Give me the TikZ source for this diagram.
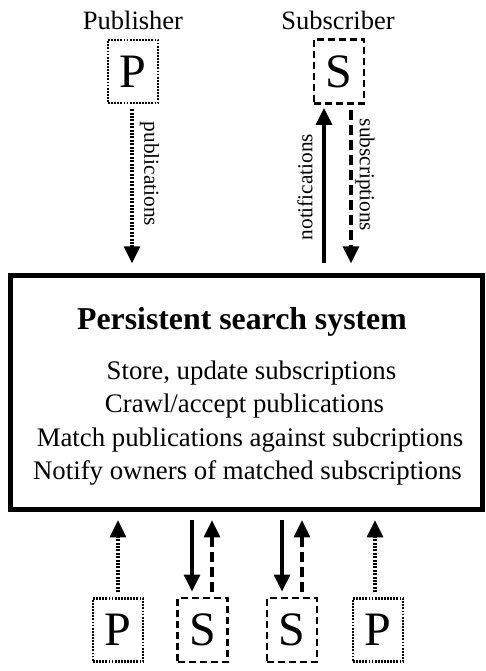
\documentclass[tikz,border=0pt]{standalone}
\usepackage{fontspec}
\setmainfont{Liberation Serif}
\usetikzlibrary{arrows.meta}
\begin{document}
\begin{tikzpicture}[x=1pt,y=-1pt,
  dotbox/.style={draw,line width=2.6pt,dash pattern=on 1.8pt off 1.3pt,minimum width=50pt,minimum height=63pt,inner sep=0pt,font=\fontsize{48}{48}\selectfont},
  dashbox/.style={draw,line width=2.8pt,dash pattern=on 7pt off 4pt,minimum width=50pt,minimum height=64pt,inner sep=0pt,font=\fontsize{48}{48}\selectfont},
  arr/.style={line width=3.2pt,-{Triangle[length=17pt,width=16pt]}},
  dotarr/.style={arr,dash pattern=on 2pt off 1.4pt},
  dasharr/.style={arr,dash pattern=on 10pt off 5pt},
  lbl/.style={font=\fontsize{26.5}{26.5}\selectfont,anchor=base,inner sep=0pt},
  side/.style={font=\fontsize{21.3}{21.3}\selectfont,inner sep=0pt},
  body/.style={font=\fontsize{26.8}{26.8}\selectfont,anchor=base,inner sep=0pt}
]
\useasboundingbox (0,0) rectangle (486,671);
% main box
\node[draw,line width=4.5pt,minimum width=472pt,minimum height=234pt,inner sep=0pt] (sys) at (246.5,392.5) {};
\node[font=\fontsize{31.8}{31.8}\selectfont\bfseries,anchor=base,inner sep=0pt] (title) at (242,329) {Persistent search system};
\node[body] (l1) at (251.5,379) {Store, update subscriptions};
\node[body] (l2) at (244.5,412.5) {Crawl/accept publications};
\node[body] (l3) at (250,446) {Match publications against subcriptions};
\node[body] (l4) at (247.5,479) {Notify owners of matched subscriptions};
% top
\node[lbl] (publ) at (133,30) {Publisher};
\node[lbl] (subl) at (338,30) {Subscriber};
\node[dotbox] (P) at (133,71.5) {P};
\node[dashbox] (S) at (339,71.5) {S};
\draw[dotarr] ([xshift=-1pt,yshift=-5pt]P.south) -- ([xshift=-1pt,yshift=10pt]P.south |- sys.north);
\node[side,rotate=-90] (pubt) at (149.5,174) {publications};
\draw[arr] ([xshift=-15pt,yshift=10pt]S.south |- sys.north) -- ([xshift=-15pt,yshift=-3pt]S.south);
\node[side,rotate=90] (nott) at (305,187) {notifications};
\draw[dasharr] ([xshift=12pt,yshift=-5pt]S.south) -- ([xshift=12pt,yshift=10pt]S.south |- sys.north);
\node[side,rotate=-90] (subt) at (365,175) {subscriptions};
% bottom
\node[dotbox] (P1) at (118,630) {P};
\node[dashbox] (S1) at (202.5,630) {S};
\node[dashbox] (S2) at (292,630) {S};
\node[dotbox] (P2) at (378,630) {P};
\draw[dotarr] ([yshift=5pt]P1.north) -- ([yshift=-8.5pt]P1.north |- sys.south);
\draw[arr] ([xshift=-10.5pt,yshift=-8.5pt]S1.north |- sys.south) -- ([xshift=-10.5pt,yshift=5pt]S1.north);
\draw[dasharr] ([xshift=9.5pt,yshift=5pt]S1.north) -- ([xshift=9.5pt,yshift=-8.5pt]S1.north |- sys.south);
\draw[arr] ([xshift=-10pt,yshift=-8.5pt]S2.north |- sys.south) -- ([xshift=-10pt,yshift=5pt]S2.north);
\draw[dasharr] ([xshift=10pt,yshift=5pt]S2.north) -- ([xshift=10pt,yshift=-8.5pt]S2.north |- sys.south);
\draw[dotarr] ([xshift=-3pt,yshift=5pt]P2.north) -- ([xshift=-3pt,yshift=-8.5pt]P2.north |- sys.south);
\end{tikzpicture}
\end{document}
